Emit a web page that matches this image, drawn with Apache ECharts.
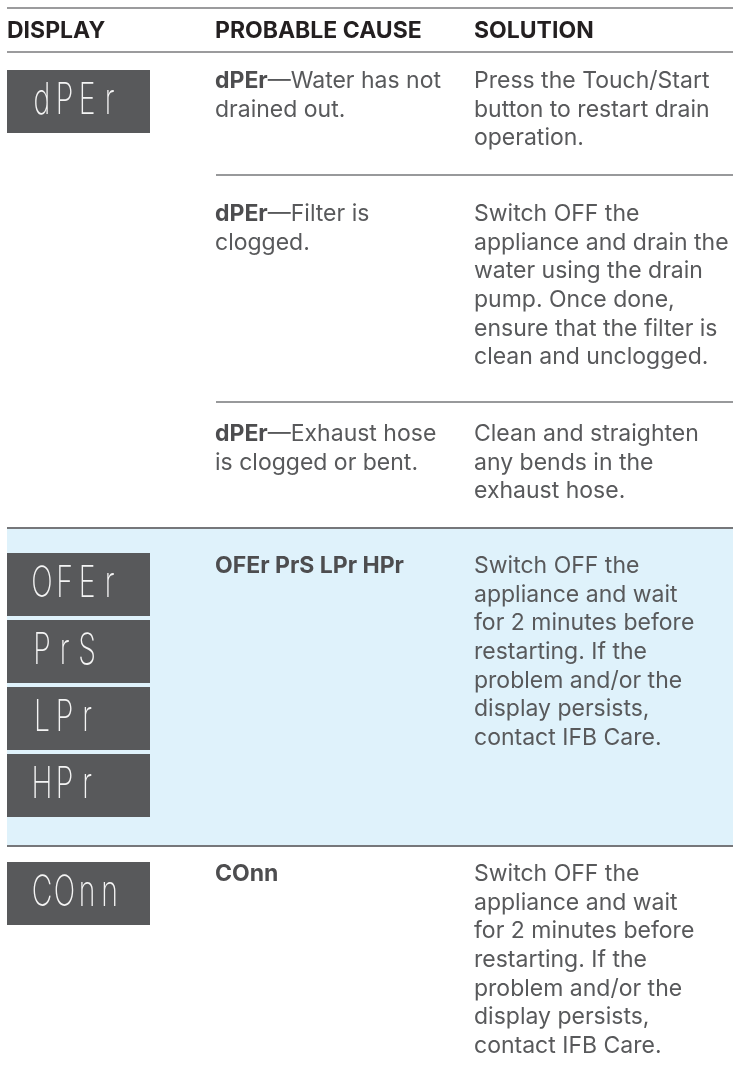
<!DOCTYPE html>
<html>
<head>
<meta charset="utf-8">
<script src="https://cdn.jsdelivr.net/npm/echarts@6/dist/echarts.min.js"></script>
<style>
html,body{margin:0;padding:0;background:#fff;}
#chart{width:733px;height:1072px;}
</style>
</head>
<body>
<div id="chart"></div>
<script>
// ---------- content ----------
const headers = ['DISPLAY', 'PROBABLE CAUSE', 'SOLUTION'];
const displayCodes = [['dPEr'], [], [], ['OFEr', 'PrS', 'LPr', 'HPr'], ['COnn']];
const causeCodes = ['dPEr', 'dPEr', 'dPEr', 'OFEr PrS LPr HPr', 'COnn'];
const causeDetails = [
  '—Water has not\ndrained out.',
  '—Filter is\nclogged.',
  '—Exhaust hose\nis clogged or bent.',
  '',
  ''
];
const solutions = [
  'Press the Touch/Start\nbutton to restart drain\noperation.',
  'Switch OFF the\nappliance and drain the\nwater using the drain\npump. Once done,\nensure that the filter is\nclean and unclogged.',
  'Clean and straighten\nany bends in the\nexhaust hose.',
  'Switch OFF the\nappliance and wait\nfor 2 minutes before\nrestarting. If the\nproblem and/or the\ndisplay persists,\ncontact IFB Care.',
  'Switch OFF the\nappliance and wait\nfor 2 minutes before\nrestarting. If the\nproblem and/or the\ndisplay persists,\ncontact IFB Care.'
];
const highlightedRows = [3];

// ---------- layout ----------
const colX = [7, 215, 474];
const headerY = 31;
const topLineY = 8;
const headerLineY = 52;
const rowBottomY = [175, 402, 528, 846];
const rowBottomStartX = [216, 216, 7, 7];
const rowTopY = [52, 175, 402, 528, 846];
const rowTextY = [81, 214, 434, 566, 874];
const boxY = [[70], [], [], [553, 620, 687, 754], [862]];
const lineH = 28.7;
const bodyFont = 'Inter';
const bodySize = 23;

const graphics = [];

highlightedRows.forEach(r => {
  graphics.push({
    type: 'rect', silent: true, z: 0,
    shape: { x: 7, y: rowTopY[r], width: 733 - 7, height: rowBottomY[r] - rowTopY[r] },
    style: { fill: '#dff2fb' }
  });
});

graphics.push({ type: 'line', z: 5, shape: { x1: 7, y1: topLineY, x2: 733, y2: topLineY }, style: { stroke: '#7a7a7c', lineWidth: 1.5 } });
graphics.push({ type: 'line', z: 5, shape: { x1: 7, y1: headerLineY, x2: 733, y2: headerLineY }, style: { stroke: '#7a7a7c', lineWidth: 1.5 } });
rowBottomY.forEach((y, i) => {
  graphics.push({ type: 'line', z: 5, shape: { x1: rowBottomStartX[i], y1: y, x2: 733, y2: y }, style: { stroke: '#76777a', lineWidth: i >= 2 ? 2 : 1.5 } });
});

headers.forEach((h, i) => {
  graphics.push({
    type: 'text', z: 10,
    style: {
      text: h, x: colX[i], y: headerY,
      fill: '#231f20', font: 'bold 23px ' + bodyFont,
      verticalAlign: 'middle', textVerticalAlign: 'middle'
    }
  });
});

causeCodes.forEach((code, r) => {
  const parts = causeDetails[r].split('\n');
  let txt = '{b|' + code + '}' + (parts[0] ? '{n|' + parts[0] + '}' : '');
  for (let k = 1; k < parts.length; k++) txt += '\n{n|' + parts[k] + '}';
  const top = rowTextY[r] - lineH / 2;
  graphics.push({
    type: 'text', z: 10,
    style: {
      text: txt, x: colX[1], y: top,
      fontFamily: bodyFont, fontSize: bodySize, lineHeight: lineH,
      fill: '#58595b',
      verticalAlign: 'top', textVerticalAlign: 'top',
      rich: {
        b: { fontFamily: bodyFont, fontSize: bodySize, fontWeight: 'bold', fill: '#4d4d4f', lineHeight: lineH },
        n: { fontFamily: bodyFont, fontSize: bodySize, fill: '#58595b', lineHeight: lineH }
      }
    }
  });
  graphics.push({
    type: 'text', z: 10,
    style: {
      text: solutions[r], x: colX[2], y: top,
      fontFamily: bodyFont, fontSize: bodySize, lineHeight: lineH,
      fill: '#58595b',
      verticalAlign: 'top', textVerticalAlign: 'top'
    }
  });
  displayCodes[r].forEach((c, j) => {
    const y = boxY[r][j];
    graphics.push({
      type: 'rect', z: 8,
      shape: { x: 7, y: y, width: 143, height: 63 },
      style: { fill: '#58595b' }
    });
    // one glyph per display cell, fixed pitch like a segment display
    c.split('').forEach((ch, k) => {
      graphics.push({
        type: 'text', z: 9,
        x: 42 + k * 22.5, y: y + 31,
        scaleX: 0.66,
        style: {
          text: ch, x: 0, y: 0,
          fill: '#f4f4f4', font: '200 43px Inter',
          align: 'center', textAlign: 'center',
          verticalAlign: 'middle', textVerticalAlign: 'middle'
        }
      });
    });
  });
});

const chart = echarts.init(document.getElementById('chart'), null, { renderer: 'canvas' });
chart.setOption({
  backgroundColor: '#ffffff',
  animation: false,
  graphic: { elements: graphics }
});
</script>
</body>
</html>
